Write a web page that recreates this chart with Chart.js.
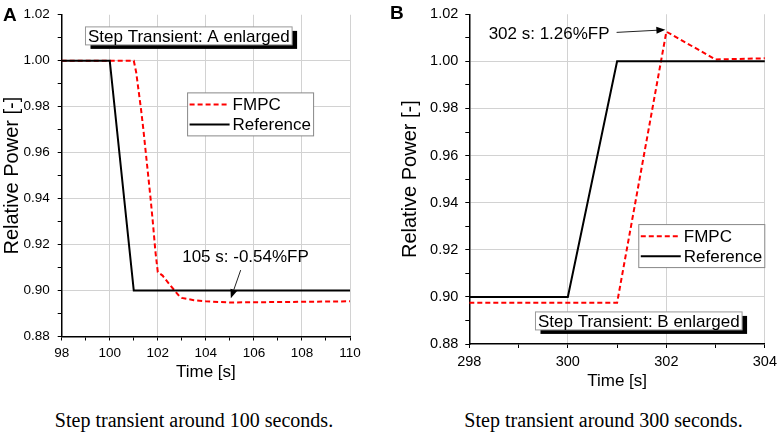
<!DOCTYPE html>
<html>
<head>
<meta charset="utf-8">
<script src="https://cdn.jsdelivr.net/npm/chart.js@4.4.1/dist/chart.umd.min.js"></script>
<style>
body { margin:0; background:#fff; width:782px; height:432px; position:relative; overflow:hidden; font-family:"Liberation Sans", Arial, sans-serif; }
canvas { position:absolute; top:0; }
#chartA { left:0; }
#chartB { left:390px; }
.panel { position:absolute; font-weight:bold; font-size:19px; line-height:19px; }
.caption { position:absolute; top:410px; width:360px; text-align:center; font-family:"Liberation Serif", "Times New Roman", serif; font-size:20px; line-height:20px; }
</style>
</head>
<body>
<canvas id="chartA" width="390" height="383"></canvas>
<canvas id="chartB" width="392" height="392"></canvas>
<div class="panel" style="left:3px; top:4.5px">A</div>
<div class="panel" style="left:390px; top:2.5px">B</div>
<div class="caption" style="left:14px">Step transient around 100 seconds.</div>
<div class="caption" style="left:423.5px">Step transient around 300 seconds.</div>
<script>
// panel A: step down around 100 s
const refTimeA = [98, 100, 101, 110];
const refPowerA = [1.000, 1.000, 0.900, 0.900];
const fmpcTimeA = [98, 101.0, 101.1, 101.2, 101.3, 101.4, 101.5, 101.6, 101.7, 101.8, 101.9, 102.0,
                   102.2, 102.5, 102.7, 102.9, 103.0, 103.5, 104, 105, 106, 107, 108, 109, 110];
const fmpcPowerA = [1.000, 1.000, 0.995, 0.987, 0.979, 0.970, 0.960, 0.950, 0.940, 0.929, 0.917, 0.908,
                    0.9065, 0.9025, 0.900, 0.8975, 0.8968, 0.8958, 0.8953, 0.8948, 0.8949, 0.8950, 0.8951, 0.8952, 0.8953];

// panel B: step up around 300 s
const refTimeB = [298, 300, 301, 304];
const refPowerB = [0.900, 0.900, 1.000, 1.000];
const fmpcTimeB = [298, 301, 302, 303, 304];
const fmpcPowerB = [0.8975, 0.8975, 1.0126, 1.0008, 1.0013];

const timeRangeA = [98, 110];
const timeRangeB = [298, 304];
const powerRange = [0.88, 1.02];
const seriesNames = ['FMPC', 'Reference'];
const noteA = '105 s: -0.54%FP';
const noteB = '302 s: 1.26%FP';
const boxTitleA = 'Step Transient: A enlarged';
const boxTitleB = 'Step Transient: B enlarged';

const FONT = '"Liberation Sans", Arial, sans-serif';

function toPoints(xs, ys) {
    return xs.map((x, i) => ({ x: x, y: ys[i] }));
}

const notesPlugin = {
    id: 'notes',
    afterDatasetsDraw(chart, args, opts) {
        const ctx = chart.ctx;
        const px = (t) => chart.scales.x.getPixelForValue(t);
        const py = (v) => chart.scales.y.getPixelForValue(v);
        ctx.save();
        ctx.font = '17px ' + FONT;
        ctx.textBaseline = 'middle';

        // title box with black shadow
        const tb = opts.titleBox;
        const w = ctx.measureText(tb.text).width + 5, h = 18;
        const bx = px(tb.x) - w / 2, by = py(tb.y) - h / 2;
        ctx.fillStyle = '#000';
        ctx.fillRect(bx + 5, by + 4, w, h);
        ctx.fillStyle = '#fff';
        ctx.fillRect(bx, by, w, h);
        ctx.strokeStyle = '#999';
        ctx.lineWidth = 1;
        ctx.strokeRect(bx, by, w, h);
        ctx.fillStyle = '#000';
        ctx.textAlign = 'center';
        ctx.fillText(tb.text, px(tb.x), py(tb.y) + 1);

        // callout with arrow
        const c = opts.callout;
        ctx.fillText(c.text, px(c.x), py(c.y));
        const x0 = px(c.from[0]), y0 = py(c.from[1]);
        const x1 = px(c.to[0]), y1 = py(c.to[1]);
        const ang = Math.atan2(y1 - y0, x1 - x0);
        ctx.strokeStyle = '#222';
        ctx.lineWidth = 1;
        ctx.beginPath();
        ctx.moveTo(x0, y0);
        ctx.lineTo(x1 - 6 * Math.cos(ang), y1 - 6 * Math.sin(ang));
        ctx.stroke();
        ctx.fillStyle = '#000';
        ctx.beginPath();
        ctx.moveTo(x1, y1);
        ctx.lineTo(x1 - 9 * Math.cos(ang) + 3.5 * Math.sin(ang), y1 - 9 * Math.sin(ang) - 3.5 * Math.cos(ang));
        ctx.lineTo(x1 - 9 * Math.cos(ang) - 3.5 * Math.sin(ang), y1 - 9 * Math.sin(ang) + 3.5 * Math.cos(ang));
        ctx.closePath();
        ctx.fill();

        // legend box
        const lg = opts.legendBox;
        const lx = px(lg.x), ly = py(lg.y);
        ctx.fillStyle = '#fff';
        ctx.fillRect(lx, ly, 126, 43);
        ctx.strokeStyle = '#888';
        ctx.strokeRect(lx, ly, 126, 43);
        ctx.textAlign = 'left';
        seriesNames.forEach((name, i) => {
            const ds = chart.data.datasets.find(d => d.label === name);
            const yy = ly + 11.7 + 20 * i;
            ctx.strokeStyle = ds.borderColor;
            ctx.lineWidth = ds.borderWidth;
            ctx.setLineDash(ds.borderDash || []);
            ctx.beginPath();
            ctx.moveTo(lx + 2, yy);
            ctx.lineTo(lx + 42, yy);
            ctx.stroke();
            ctx.setLineDash([]);
            ctx.fillStyle = '#000';
            ctx.fillText(name, lx + 45, yy + 1);
        });
        ctx.restore();
    }
};

function gridColor(range) {
    return (c) => {
        const v = c.tick.value;
        if (Math.abs(v - range[0]) < 1e-6) return 'rgba(0,0,0,0)';
        return Math.round(v) % 2 === 0 ? '#d2d2d2' : 'rgba(0,0,0,0)';
    };
}

function makeChart(id, cfg) {
    return new Chart(document.getElementById(id), {
        type: 'line',
        data: {
            datasets: [{
                label: 'Reference',
                data: toPoints(cfg.refT, cfg.refP),
                borderColor: '#000',
                borderWidth: 2,
                pointRadius: 0,
                tension: 0
            }, {
                label: 'FMPC',
                data: toPoints(cfg.fmpcT, cfg.fmpcP),
                borderColor: '#ff0000',
                borderWidth: 2,
                borderDash: [5, 3],
                pointRadius: 0,
                tension: 0
            }]
        },
        options: {
            responsive: false,
            animation: false,
            layout: { padding: { left: 0, top: 7.3, right: cfg.padRight, bottom: 0 } },
            plugins: {
                legend: { display: false },
                tooltip: { enabled: false },
                notes: cfg.notes
            },
            scales: {
                x: {
                    type: 'linear',
                    min: cfg.range[0],
                    max: cfg.range[1],
                    afterFit: (s) => { s.height = cfg.xHeight; },
                    ticks: {
                        stepSize: 1,
                        autoSkip: false,
                        maxRotation: 0,
                        padding: 5,
                        color: '#000',
                        font: { family: FONT, size: cfg.tickSize },
                        callback: (v) => (Math.round(v) % 2 === 0 ? String(v) : '')
                    },
                    grid: { color: gridColor(cfg.range), tickColor: '#000', tickLength: 4, lineWidth: 1 },
                    border: { color: '#000', width: 1.5 },
                    title: {
                        display: true,
                        text: 'Time [s]',
                        color: '#000',
                        padding: { top: 0, bottom: 0 },
                        font: { family: FONT, size: 17 }
                    }
                },
                y: {
                    min: powerRange[0],
                    max: powerRange[1],
                    afterFit: (s) => { s.width = cfg.yWidth; },
                    ticks: {
                        stepSize: 0.01,
                        autoSkip: false,
                        padding: cfg.yTickPad,
                        color: '#000',
                        font: { family: FONT, size: cfg.tickSize, lineHeight: 1 },
                        callback: (v) => (Math.round(v * 100) % 2 === 0 ? v.toFixed(2) : '')
                    },
                    grid: {
                        color: (c) => {
                            const k = Math.round(c.tick.value * 100);
                            if (k === 88 || k === 102) return 'rgba(0,0,0,0)';
                            return k % 2 === 0 ? '#d2d2d2' : 'rgba(0,0,0,0)';
                        },
                        tickColor: '#000',
                        tickLength: 4,
                        lineWidth: 1
                    },
                    border: { color: '#000', width: 1.5 },
                    title: {
                        display: true,
                        text: 'Relative Power [-]',
                        color: '#000',
                        padding: { top: cfg.yTitlePad, bottom: 0 },
                        font: { family: FONT, size: 20 }
                    }
                }
            }
        },
        plugins: [notesPlugin]
    });
}

makeChart('chartA', {
    refT: refTimeA, refP: refPowerA, fmpcT: fmpcTimeA, fmpcP: fmpcPowerA,
    range: timeRangeA, padRight: 40, xHeight: 46.5, yWidth: 61.7, yTitlePad: 0,
    tickSize: 13.5, yTickPad: 8,
    notes: {
        titleBox: { text: boxTitleA, x: 103.29, y: 1.0108 },
        callout: { text: noteA, x: 105.65, y: 0.9146, from: [105.45, 0.9089], to: [105.04, 0.8966] },
        legendBox: { x: 103.24, y: 0.9860 }
    }
});

makeChart('chartB', {
    refT: refTimeB, refP: refPowerB, fmpcT: fmpcTimeB, fmpcP: fmpcPowerB,
    range: timeRangeB, padRight: 14, xHeight: 48, yWidth: 79.3, yTitlePad: 8,
    tickSize: 14.5, yTickPad: 7,
    notes: {
        titleBox: { text: boxTitleB, x: 301.44, y: 0.8898 },
        callout: { text: noteB, x: 299.62, y: 1.0113, from: [300.99, 1.0123], to: [301.98, 1.0134] },
        legendBox: { x: 301.44, y: 0.9307 }
    }
});
</script>
</body>
</html>
